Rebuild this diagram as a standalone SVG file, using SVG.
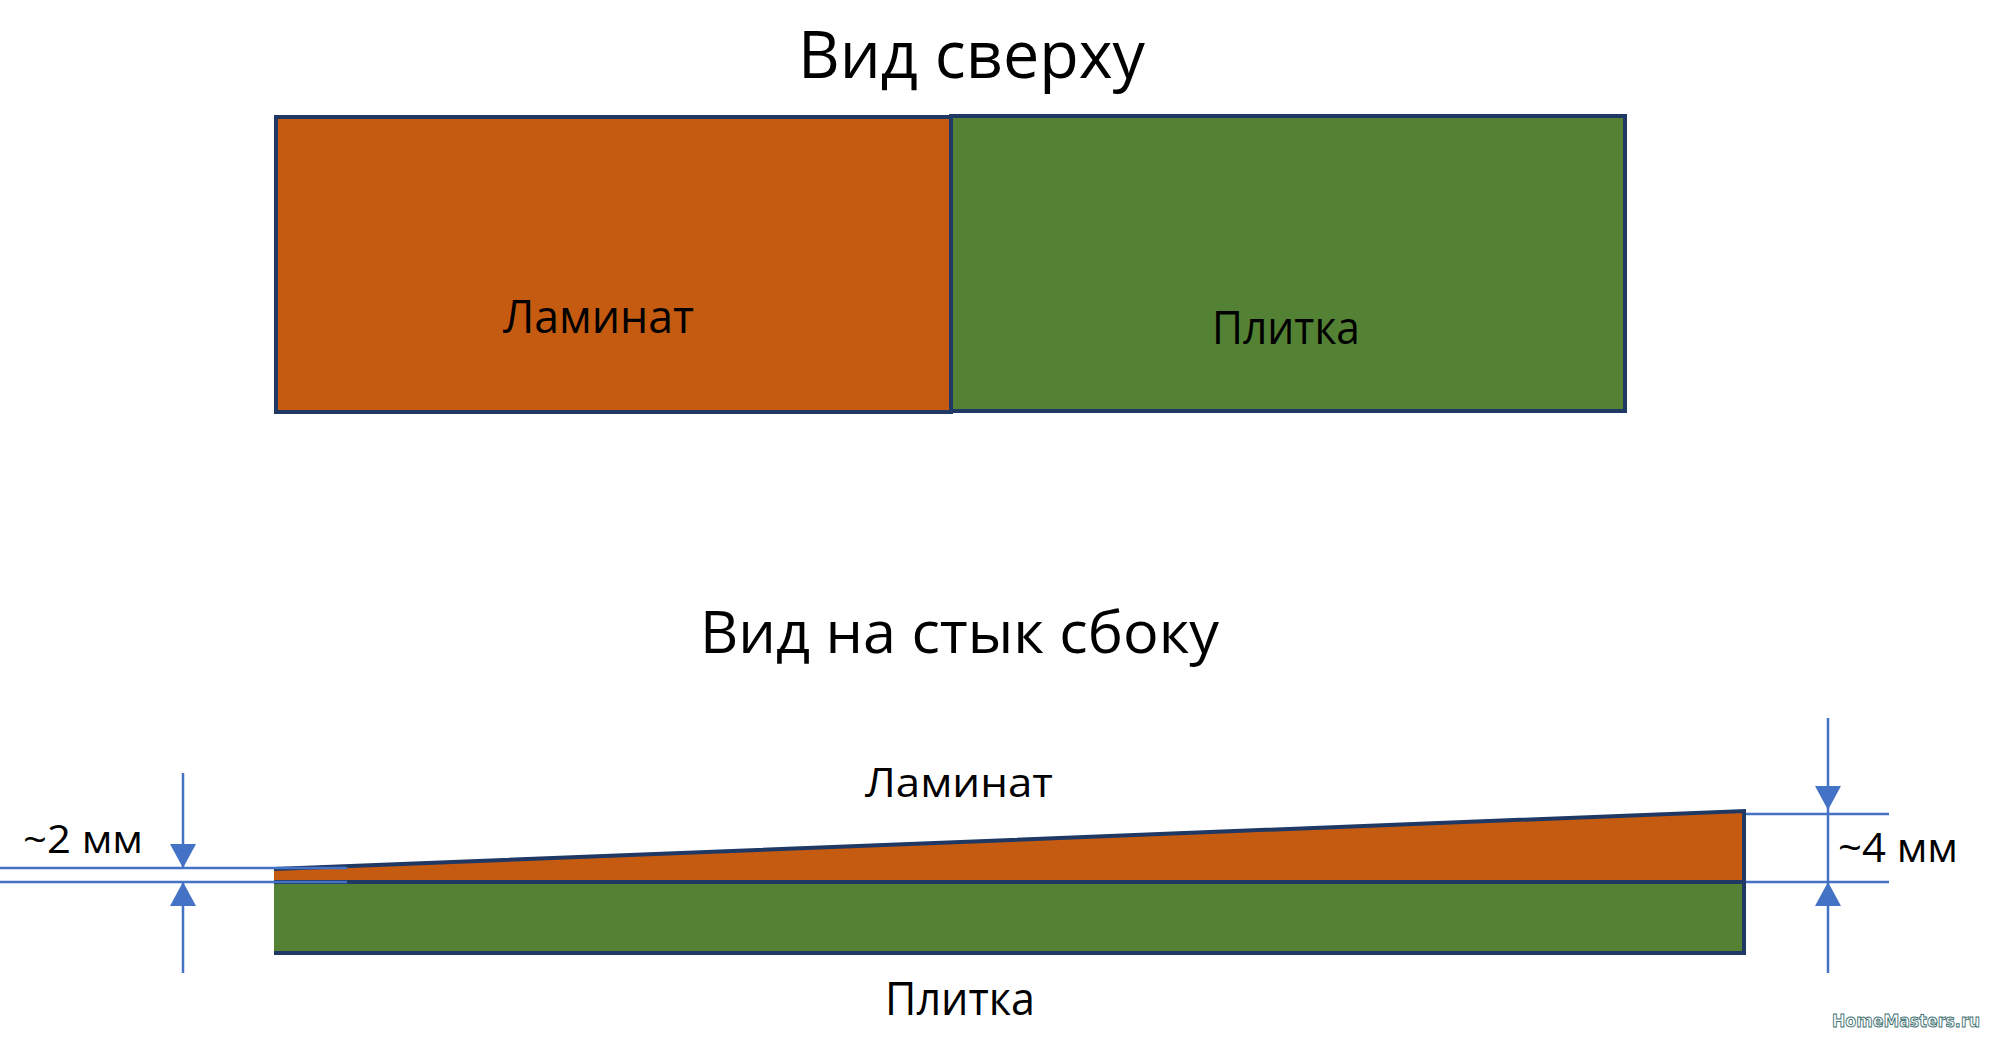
<svg xmlns="http://www.w3.org/2000/svg" width="2000" height="1043" viewBox="0 0 2000 1043">
<style>
.t{font-family:"Open Sans","Noto Sans",sans-serif;fill:#000}
.edge{stroke:#1F3864;stroke-width:4;fill:none}
.dim{stroke:#4472C4;stroke-width:2.5;fill:none}
.lam{fill:#C55A11}
.til{fill:#548235}
</style>
<defs>
<marker id="ah" viewBox="0 0 24 26" refX="24" refY="13" markerWidth="24" markerHeight="26" markerUnits="userSpaceOnUse" orient="auto">
<path d="M0,0 L24,13 L0,26 Z" fill="#4472C4"/>
</marker>
</defs>
<rect width="2000" height="1043" fill="#fff"/>
<text class="t" x="798" y="78" font-size="65" textLength="347" lengthAdjust="spacingAndGlyphs">Вид сверху</text>
<g id="top-laminat">
<rect class="lam" x="276" y="117" width="675" height="295" stroke="#1F3864" stroke-width="4"/>
<text class="t" x="503" y="333" font-size="46" textLength="191" lengthAdjust="spacingAndGlyphs">Ламинат</text>
</g>
<g id="top-plitka">
<rect class="til" x="951" y="116" width="674" height="295" stroke="#1F3864" stroke-width="4"/>
<text class="t" x="1212" y="344" font-size="45" textLength="148" lengthAdjust="spacingAndGlyphs">Плитка</text>
</g>
<text class="t" x="700" y="653" font-size="58" textLength="519" lengthAdjust="spacingAndGlyphs">Вид на стык сбоку</text>
<g id="side-laminat">
<polygon class="lam" points="274,869 1744,811 1744,882 274,882"/>
<path class="edge" d="M274,869 L1744,811 L1744,882"/>
<text class="t" x="865" y="797" font-size="41" textLength="188" lengthAdjust="spacingAndGlyphs">Ламинат</text>
</g>
<g id="side-plitka">
<rect class="til" x="274" y="882" width="1470" height="71"/>
<path class="edge" d="M274,882 L1744,882 M1744,882 L1744,955 M274,953 L1746,953"/>
<text class="t" x="885" y="1015" font-size="45" textLength="150" lengthAdjust="spacingAndGlyphs">Плитка</text>
</g>
<g id="connectors">
<path class="dim" d="M0,868 L347,868 M0,882 L347,882"/>
<path class="dim" d="M183,773 L183,868" marker-end="url(#ah)"/>
<path class="dim" d="M183,973 L183,882" marker-end="url(#ah)"/>
<path class="dim" d="M1746,814 L1889,814 M1746,882 L1889,882"/>
<path class="dim" d="M1828,718 L1828,810" marker-end="url(#ah)"/>
<path class="dim" d="M1828,973 L1828,882" marker-end="url(#ah)"/>
<path class="dim" d="M1828,810 L1828,882"/>
</g>
<text class="t" x="23" y="853" font-size="39" textLength="120" lengthAdjust="spacingAndGlyphs">~2 мм</text>
<text class="t" x="1838" y="862" font-size="41" textLength="120" lengthAdjust="spacingAndGlyphs">~4 мм</text>
<text x="1832" y="1027" font-family="DejaVu Sans, sans-serif" font-size="18" font-weight="bold" fill="#fff" stroke="#3f7272" stroke-width="1" textLength="148" lengthAdjust="spacingAndGlyphs">HomeMasters.ru</text>
</svg>
